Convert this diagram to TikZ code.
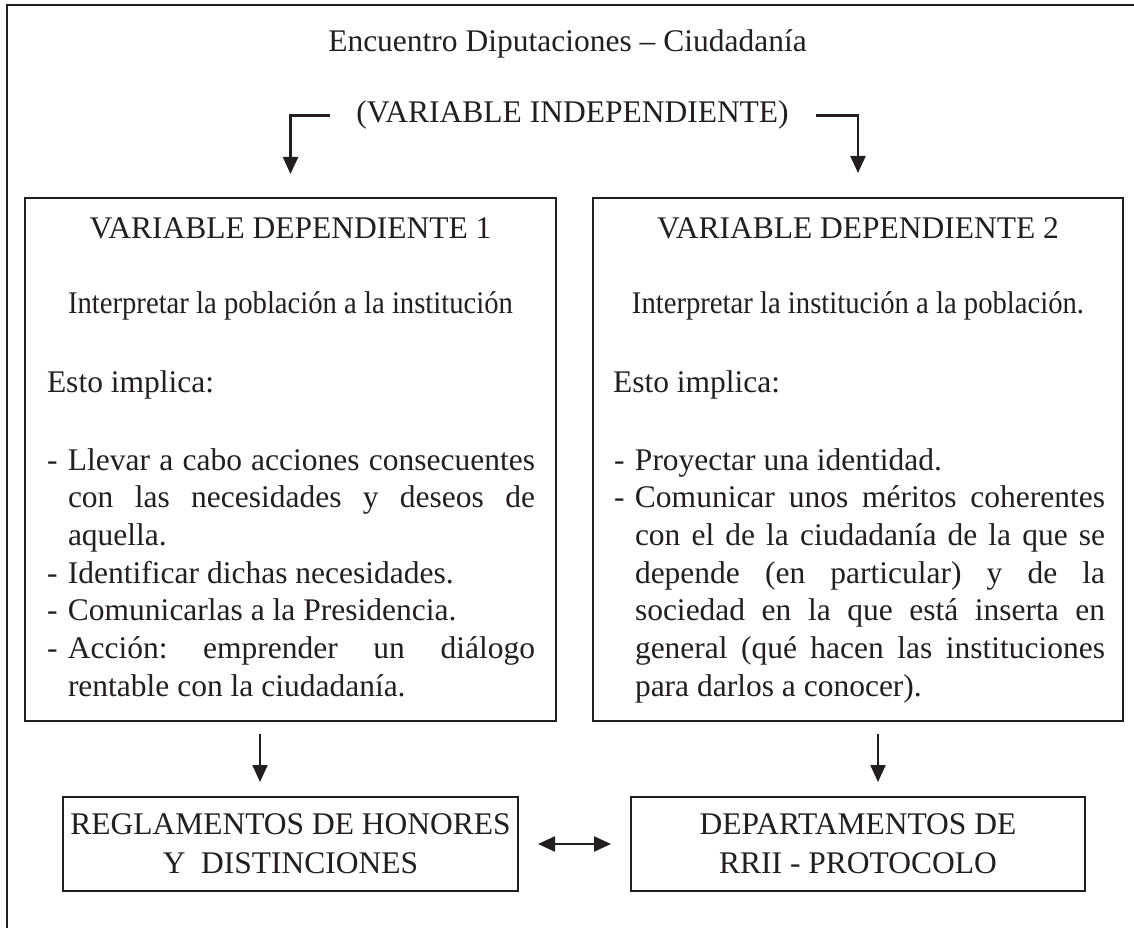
\documentclass[tikz,border=0pt]{standalone}
\usepackage{fontspec}
\usepackage{graphicx}
\setmainfont{Liberation Serif}
\usetikzlibrary{arrows.meta}
\definecolor{ink}{RGB}{35,31,32}
\newcommand{\dashitem}[1]{\makebox[21pt][l]{-}#1}
\newcommand{\contitem}[1]{\makebox[21pt][l]{}#1}
\newcommand{\jline}[2]{\makebox[#1][s]{#2}}
\frenchspacing
\begin{document}
\begin{tikzpicture}[x=1pt,y=-1pt,
  every node/.style={inner sep=0pt, outer sep=0pt, text=ink, font=\fontsize{31.5}{37.7}\selectfont},
  frame/.style={draw=ink, line width=1.1pt},
  bigbox/.style={draw=ink, line width=1.3pt, minimum height=523pt},
  smallbox/.style={draw=ink, line width=1.5pt, minimum height=94pt, align=center, font=\fontsize{31.5}{39}\selectfont},
  arr/.style={draw=ink, line width=2.2pt, -{Triangle[length=17pt,width=15pt]}},
  dbl/.style={draw=ink, line width=2.2pt, {Triangle[length=17pt,width=15pt]}-{Triangle[length=17pt,width=15pt]}}
]
\useasboundingbox (0,0) rectangle (1134,928);
\fill[white] (0,0) rectangle (1134,928);
% outer frame (cut at right and bottom)
\draw[frame] (7,960) -- (7,5) -- (1160,5);

% boxes
\node[bigbox, minimum width=531pt] (box1) at (290.5,459.5) {};
\node[bigbox, minimum width=530pt] (box2) at (858,459.5) {};
\node[smallbox, minimum width=455pt] (box3) at (290.5,844) {REGLAMENTOS DE HONORES\\Y\ \ DISTINCIONES};
\node[smallbox, minimum width=454pt] (box4) at (858,844) {DEPARTAMENTOS DE\\RRII - PROTOCOLO};

% titles
\node[anchor=base] (title) at (567.5,52) {Encuentro Diputaciones – Ciudadanía};
\node[anchor=base] (indep) at (572.5,123) {(VARIABLE INDEPENDIENTE)};

% box 1 content
\node[anchor=base] (h1) at (290.5,238) {VARIABLE DEPENDIENTE 1};
\node[anchor=base] (i1) at (290.5,313) {\scalebox{0.91}[1]{Interpretar la población a la institución}};
\node[anchor=base west] (e1) at (47,392) {Esto implica:};
\node[anchor=base west] (l1) at (47,470) {\parbox[t]{488pt}{%
\dashitem{\jline{467pt}{Llevar a cabo acciones consecuentes}}\\
\contitem{\jline{467pt}{con las necesidades y deseos de}}\\
\contitem{aquella.}\\
\dashitem{Identificar dichas necesidades.}\\
\dashitem{Comunicarlas a la Presidencia.}\\
\dashitem{\jline{467pt}{Acción: emprender un diálogo}}\\
\contitem{rentable con la ciudadanía.}}};

% box 2 content
\node[anchor=base] (h2) at (858,238) {VARIABLE DEPENDIENTE 2};
\node[anchor=base] (i2) at (858,313) {\scalebox{0.91}[1]{Interpretar la institución a la población.}};
\node[anchor=base west] (e2) at (613,392) {Esto implica:};
\node[anchor=base west] (l2) at (614,470) {\parbox[t]{491pt}{%
\dashitem{Proyectar una identidad.}\\
\dashitem{\jline{470pt}{Comunicar unos méritos coherentes}}\\
\contitem{\jline{470pt}{con el de la ciudadanía de la que se}}\\
\contitem{\jline{470pt}{depende (en particular) y de la}}\\
\contitem{\jline{470pt}{sociedad en la que está inserta en}}\\
\contitem{\jline{470pt}{general (qué hacen las instituciones}}\\
\contitem{para darlos a conocer).}}};

% connectors
\draw[arr] ([xshift=-26pt]indep.west) -| ([yshift=24pt]box1.north);
\draw[arr] ([xshift=27pt]indep.east) -| ([yshift=25pt]box2.north);
\draw[arr] ([xshift=-30.5pt,yshift=-13pt]box1.south) -- ([xshift=-30.5pt,yshift=15pt]box3.north);
\draw[arr] ([xshift=20pt,yshift=-13pt]box2.south) -- ([xshift=20pt,yshift=15pt]box4.north);
\draw[dbl] ([xshift=20pt]box3.east) -- ([xshift=-20pt]box4.west);
\end{tikzpicture}
\end{document}
